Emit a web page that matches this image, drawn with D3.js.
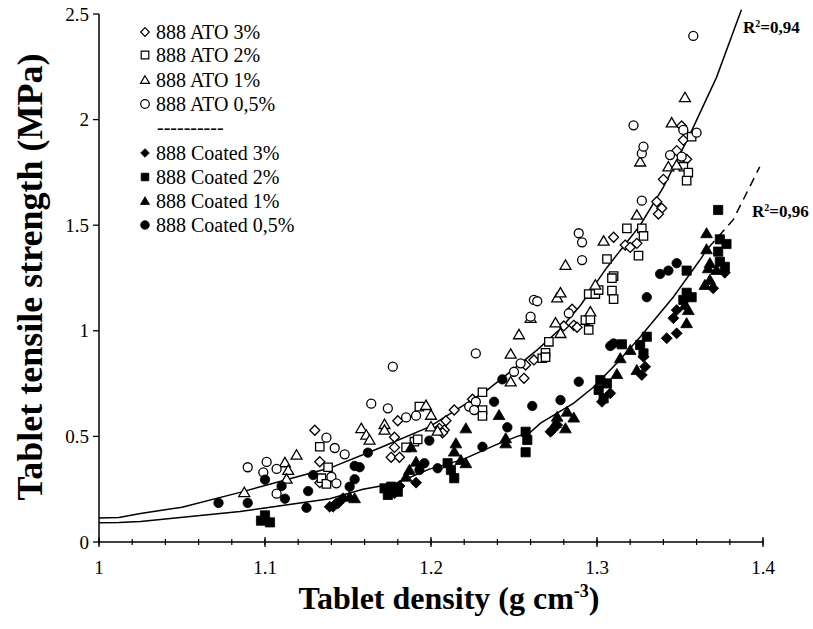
<!DOCTYPE html>
<html><head><meta charset="utf-8">
<script src="https://cdn.jsdelivr.net/npm/d3@7"></script>
<style>
body{margin:0;background:#fff}
svg{display:block}
text{font-family:"Liberation Serif","Times New Roman",Times,serif;fill:#000}
</style>
</head><body>
<svg id="chart" width="813" height="629"></svg>
<script>
// ---------- data ----------
const xTicks = [1, 1.1, 1.2, 1.3, 1.4];
const xTickLabels = ["1", "1.1", "1.2", "1.3", "1.4"];
const yTicks = [0, 0.5, 1, 1.5, 2, 2.5];
const yTickLabels = ["0", "0.5", "1", "1.5", "2", "2.5"];
const seriesNames = ["888 ATO 3%", "888 ATO 2%", "888 ATO 1%", "888 ATO 0,5%",
  "888 Coated 3%", "888 Coated 2%", "888 Coated 1%", "888 Coated 0,5%"];

const ato3 = [[1.130,0.529],[1.133,0.38],[1.133,0.281],[1.176,0.401],[1.181,0.401],[1.178,0.448],[1.178,0.496],
  [1.180,0.574],[1.205,0.538],[1.208,0.53],[1.207,0.517],[1.209,0.574],[1.214,0.625],[1.225,0.676],[1.256,0.775],
  [1.257,0.838],[1.262,0.862],[1.280,1.023],[1.286,1.026],[1.288,1.017],[1.285,1.102],[1.31,1.443],[1.317,1.406],
  [1.32,1.395],[1.324,1.414],[1.336,1.611],[1.339,1.58],[1.337,1.553],[1.34,1.717],[1.348,1.853],[1.354,1.812],
  [1.351,1.97],[1.352,1.903]];
const ato2 = [[1.133,0.451],[1.138,0.354],[1.134,0.302],[1.137,0.275],[1.185,0.448],[1.190,0.475],[1.192,0.486],
  [1.193,0.641],[1.231,0.709],[1.231,0.625],[1.231,0.597],[1.267,0.87],[1.269,0.896],[1.269,0.875],[1.271,0.948],
  [1.293,1.051],[1.296,1.054],[1.295,1.004],[1.295,1.174],[1.299,1.174],[1.301,1.193],[1.306,1.34],[1.31,1.259],
  [1.309,1.249],[1.309,1.19],[1.31,1.15],[1.318,1.485],[1.327,1.485],[1.328,1.449],[1.325,1.356],[1.352,1.777],
  [1.355,1.749],[1.354,1.711],[1.357,1.919]];
const ato1 = [[1.0875,0.235],[1.112,0.376],[1.114,0.34],[1.113,0.298],[1.119,0.412],[1.158,0.538],[1.161,0.507],
  [1.163,0.483],[1.172,0.557],[1.172,0.53],[1.197,0.647],[1.200,0.601],[1.2,0.546],[1.204,0.526],[1.248,0.89],
  [1.253,0.982],[1.248,0.759],[1.26,1.06],[1.276,1.157],[1.278,1.18],[1.281,1.311],[1.275,1.038],[1.278,0.988],
  [1.296,1.09],[1.299,1.217],[1.304,1.425],[1.324,1.548],[1.326,1.8],[1.343,1.777],[1.348,1.785],[1.345,1.985],
  [1.353,2.105]];
const ato05 = [[1.0896,0.354],[1.099,0.33],[1.101,0.379],[1.107,0.346],[1.107,0.229],[1.137,0.494],[1.142,0.445],
  [1.14,0.309],[1.143,0.278],[1.148,0.415],[1.164,0.655],[1.174,0.633],[1.177,0.83],[1.185,0.59],[1.191,0.598],
  [1.223,0.641],[1.227,0.664],[1.226,0.625],[1.227,0.893],[1.25,0.806],[1.254,0.846],[1.262,1.146],[1.264,1.14],
  [1.26,1.067],[1.283,1.083],[1.289,1.462],[1.291,1.419],[1.291,1.335],[1.322,1.973],[1.327,1.84],[1.328,1.872],
  [1.327,1.616],[1.344,1.832],[1.351,1.825],[1.352,1.951],[1.36,1.938],[1.358,2.396]];
const coated3 = [[1.139,0.167],[1.143,0.183],[1.141,0.167],[1.144,0.183],[1.147,0.207],[1.178,0.231],[1.181,0.265],
  [1.191,0.281],[1.272,0.522],[1.273,0.53],[1.276,0.554],[1.303,0.664],[1.308,0.704],[1.328,0.877],[1.329,0.83],
  [1.327,0.791],[1.342,0.965],[1.348,0.988],[1.346,1.06],[1.348,1.098],[1.37,1.201],[1.377,1.275]];
const coated2 = [[1.0976,0.101],[1.1,0.126],[1.103,0.093],[1.172,0.254],[1.176,0.262],[1.174,0.223],[1.18,0.238],
  [1.210,0.373],[1.212,0.341],[1.214,0.302],[1.257,0.522],[1.258,0.483],[1.257,0.425],[1.302,0.767],[1.306,0.751],
  [1.301,0.72],[1.304,0.68],[1.315,0.936],[1.33,0.972],[1.326,0.933],[1.328,0.893],[1.354,1.18],[1.357,1.159],
  [1.352,1.146],[1.354,1.285],[1.374,1.433],[1.378,1.411],[1.373,1.375],[1.374,1.327],[1.377,1.303],[1.373,1.572]];
const coated1 = [[1.151,0.214],[1.154,0.207],[1.188,0.448],[1.191,0.38],[1.187,0.341],[1.185,0.309],[1.215,0.467],
  [1.214,0.428],[1.218,0.388],[1.221,0.373],[1.221,0.538],[1.241,0.601],[1.245,0.491],[1.245,0.467],[1.276,0.593],
  [1.275,0.562],[1.282,0.617],[1.286,0.589],[1.281,0.538],[1.32,0.909],[1.314,0.87],[1.312,0.795],[1.324,0.814],
  [1.355,1.098],[1.353,1.122],[1.354,1.036],[1.366,1.462],[1.366,1.386],[1.368,1.32],[1.367,1.296],[1.372,1.288],
  [1.368,1.241],[1.365,1.217]];
const coated05 = [[1.072,0.185],[1.0896,0.185],[1.1,0.295],[1.110,0.265],[1.112,0.205],[1.125,0.162],[1.126,0.241],
  [1.129,0.317],[1.151,0.262],[1.154,0.36],[1.157,0.354],[1.154,0.297],[1.162,0.423],[1.193,0.341],[1.196,0.373],
  [1.199,0.48],[1.204,0.349],[1.231,0.451],[1.238,0.664],[1.243,0.77],[1.246,0.543],[1.261,0.644],[1.278,0.672],
  [1.289,0.759],[1.31,0.94],[1.308,0.928],[1.33,1.159],[1.338,1.269],[1.343,1.285],[1.348,1.32]];

// fitted curves
const fitATO = [[1.0,0.114],[1.012,0.116],[1.025,0.135],[1.05,0.165],[1.085,0.235],[1.12,0.31],[1.139,0.35],
  [1.169,0.445],[1.199,0.545],[1.219,0.645],[1.234,0.72],[1.249,0.814],[1.264,0.91],[1.278,1.01],[1.29,1.12],
  [1.306,1.3],[1.326,1.5],[1.34,1.68],[1.356,1.93],[1.372,2.2],[1.387,2.52]];
const fitCoated = [[1.0,0.091],[1.012,0.092],[1.025,0.097],[1.085,0.144],[1.139,0.205],[1.159,0.25],[1.179,0.278],
  [1.199,0.345],[1.219,0.39],[1.239,0.46],[1.252,0.5],[1.26,0.52],[1.266,0.563],[1.286,0.658],[1.298,0.734],
  [1.312,0.847],[1.326,0.971],[1.346,1.16],[1.362,1.335]];
const fitCoatedDashed = [[1.362,1.335],[1.366,1.383],[1.382,1.525],[1.398,1.776]];
const r2Labels = ["0,94", "0,96"];

// ---------- chart ----------
const FONT = "Liberation Serif, Times New Roman, Times, serif";
const svg = d3.select("#chart");
const x = d3.scaleLinear().domain([1, 1.4]).range([99, 763]);
const y = d3.scaleLinear().domain([0, 2.5]).range([542, 14]);

// marker shapes
const shapes = {
  diamond: r => `M0,${-r}L${r},0L0,${r}L${-r},0Z`,
  square: r => `M${-r},${-r}H${r}V${r}H${-r}Z`,
  triangle: r => `M0,${-r}L${r*1.05},${r*0.8}L${-r*1.05},${r*0.8}Z`,
  circle: r => `M${r},0A${r},${r} 0 1,1 ${-r},0A${r},${r} 0 1,1 ${r},0Z`
};
const series = [
  {name: seriesNames[0], data: ato3, shape: "diamond", r: 5, filled: false},
  {name: seriesNames[1], data: ato2, shape: "square", r: 4.2, filled: false},
  {name: seriesNames[2], data: ato1, shape: "triangle", r: 5.2, filled: false},
  {name: seriesNames[3], data: ato05, shape: "circle", r: 4.5, filled: false},
  {name: seriesNames[4], data: coated3, shape: "diamond", r: 5.5, filled: true},
  {name: seriesNames[5], data: coated2, shape: "square", r: 4.6, filled: true},
  {name: seriesNames[6], data: coated1, shape: "triangle", r: 5.6, filled: true},
  {name: seriesNames[7], data: coated05, shape: "circle", r: 4.7, filled: true}
];

// x axis with crossing ticks
const xAxisG = svg.append("g");
xAxisG.append("line").attr("x1", x(1)).attr("x2", x(1.4)).attr("y1", y(0)).attr("y2", y(0))
  .attr("stroke", "#000").attr("stroke-width", 1.5);
const minor = d3.range(0, 21).map(i => 1 + i * 0.02);
xAxisG.selectAll("line.minor").data(minor).join("line").attr("class", "minor")
  .attr("x1", d => x(d)).attr("x2", d => x(d)).attr("y1", y(0) - 3).attr("y2", y(0) + 3)
  .attr("stroke", "#000").attr("stroke-width", 1.2);
xAxisG.selectAll("line.major").data(xTicks).join("line").attr("class", "major")
  .attr("x1", d => x(d)).attr("x2", d => x(d)).attr("y1", y(0) - 5).attr("y2", y(0) + 5)
  .attr("stroke", "#000").attr("stroke-width", 1.3);
xAxisG.selectAll("text").data(xTicks).join("text")
  .attr("x", d => x(d)).attr("y", 574).attr("text-anchor", "middle").attr("font-family", FONT)
  .attr("font-size", 19).text((d, i) => xTickLabels[i]);

// y axis
const yAxisG = svg.append("g");
yAxisG.append("line").attr("x1", x(1)).attr("x2", x(1)).attr("y1", y(0)).attr("y2", y(2.5))
  .attr("stroke", "#000").attr("stroke-width", 1.5);
yAxisG.selectAll("line.tk").data(yTicks).join("line").attr("class", "tk")
  .attr("x1", x(1) - 6).attr("x2", x(1)).attr("y1", d => y(d)).attr("y2", d => y(d))
  .attr("stroke", "#000").attr("stroke-width", 1.3);
yAxisG.selectAll("text").data(yTicks).join("text")
  .attr("x", 89).attr("y", d => y(d) + 6.5).attr("text-anchor", "end").attr("font-family", FONT)
  .attr("font-size", 19).text((d, i) => yTickLabels[i]);

// titles
const xt = svg.append("text").attr("x", 449).attr("y", 609).attr("text-anchor", "middle")
  .attr("font-family", FONT).attr("font-size", 32).attr("font-weight", "bold");
xt.append("tspan").text("Tablet density (g cm");
xt.append("tspan").attr("dy", -12).attr("font-size", 18).text("-3");
xt.append("tspan").attr("dy", 12).text(")");
svg.append("text").attr("transform", "translate(42,277) rotate(-90)").attr("text-anchor", "middle")
  .attr("font-family", FONT).attr("font-size", 36).attr("font-weight", "bold")
  .text("Tablet tensile strength (MPa)");

// curves
const line = d3.line().x(d => x(d[0])).y(d => y(d[1]));
svg.append("path").attr("d", line(fitATO)).attr("fill", "none").attr("stroke", "#000").attr("stroke-width", 1.5);
svg.append("path").attr("d", line(fitCoated)).attr("fill", "none").attr("stroke", "#000").attr("stroke-width", 1.5);
svg.append("path").attr("d", line(fitCoatedDashed)).attr("fill", "none").attr("stroke", "#000")
  .attr("stroke-width", 1.5).attr("stroke-dasharray", "9,6");

// points
series.forEach(s => {
  svg.append("g").selectAll("path").data(s.data).join("path")
    .attr("transform", d => `translate(${x(d[0])},${y(d[1])})`)
    .attr("d", shapes[s.shape](s.r))
    .attr("fill", s.filled ? "#000" : "#fff")
    .attr("stroke", "#000").attr("stroke-width", s.filled ? 0.8 : 1.3);
});

// R² labels
function r2(xp, yp, val) {
  const t = svg.append("text").attr("x", xp).attr("y", yp).attr("font-family", FONT)
    .attr("font-size", 17).attr("font-weight", "bold");
  t.append("tspan").text("R");
  t.append("tspan").attr("dy", -6).attr("font-size", 10).text("2");
  t.append("tspan").attr("dy", 6).text("=" + val);
}
r2(743, 33, r2Labels[0]);
r2(752, 217, r2Labels[1]);

// legend
const legRows = [32, 55, 80, 104, 153, 177, 201, 225];
const lg = svg.append("g");
series.forEach((s, i) => {
  lg.append("path").attr("transform", `translate(145,${legRows[i]})`)
    .attr("d", shapes[s.shape](s.shape === "square" ? 3.8 : 4.3))
    .attr("fill", s.filled ? "#000" : "#fff").attr("stroke", "#000").attr("stroke-width", s.filled ? 0.8 : 1.2);
  lg.append("text").attr("x", 156).attr("y", legRows[i] + 6.5).attr("font-family", FONT)
    .attr("font-size", 20).text(s.name);
});
lg.append("text").attr("x", 157).attr("y", 134).attr("font-family", FONT).attr("font-size", 20).text("----------");
</script>
</body></html>
